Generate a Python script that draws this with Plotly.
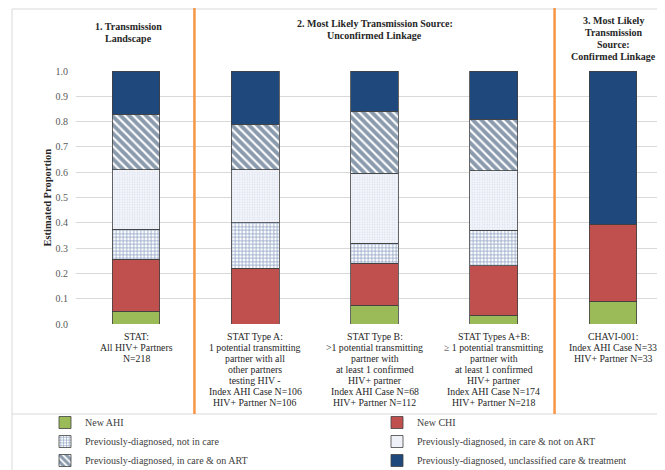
import plotly.graph_objects as go

# ---------------- data ----------------
categories = ["STAT", "STAT Type A", "STAT Type B", "STAT Types A+B", "CHAVI-001"]
category_lines = [
    ["STAT:", "All HIV+ Partners", "N=218"],
    ["STAT Type A:", "1 potential transmitting", "partner with all", "other partners",
     "testing HIV -", "Index AHI Case N=106", "HIV+ Partner N=106"],
    ["STAT Type B:", "&gt;1 potential transmitting", "partner with", "at least 1 confirmed",
     "HIV+ partner", "Index AHI Case N=68", "HIV+ Partner N=112"],
    ["STAT Types A+B:", "≥ 1 potential transmitting", "partner with", "at least 1 confirmed",
     "HIV+ partner", "Index AHI Case N=174", "HIV+ Partner N=218"],
    ["CHAVI-001:", "Index AHI Case N=33", "HIV+ Partner N=33"],
]
section_titles = [
    ["1. Transmission", "Landscape"],
    ["2. Most Likely Transmission Source:", "Unconfirmed Linkage"],
    ["3. Most Likely", "Transmission", "Source:", "Confirmed Linkage"],
]
y_title = "Estimated Proportion"
series_names = [
    "New AHI",
    "New CHI",
    "Previously-diagnosed, not in care",
    "Previously-diagnosed, in care & not on ART",
    "Previously-diagnosed, in care & on ART",
    "Previously-diagnosed, unclassified care & treatment",
]
new_ahi = [0.05, 0.0, 0.075, 0.035, 0.09]
new_chi = [0.205, 0.22, 0.165, 0.195, 0.305]
not_in_care = [0.12, 0.18, 0.08, 0.14, 0.0]
care_not_art = [0.235, 0.21, 0.275, 0.235, 0.0]
care_on_art = [0.22, 0.18, 0.245, 0.205, 0.0]
unclassified = [0.17, 0.21, 0.16, 0.19, 0.605]
y_ticks = [0.0, 0.1, 0.2, 0.3, 0.4, 0.5, 0.6, 0.7, 0.8, 0.9, 1.0]

# ---------------- layout constants ----------------
OFF = 8                      # page body margin: figure starts at (8, 8) in the window
W, H = 665 - OFF, 470 - OFF
# reference-pixel positions (window coordinates) converted to figure coordinates
PLOT_L, PLOT_R, PLOT_T, PLOT_B = 76 - OFF, 660 - OFF, 71 - OFF, 324 - OFF
ML, MR, MT, MB = PLOT_L, W - PLOT_R, PLOT_T, H - PLOT_B
PW, PH = W - ML - MR, H - MT - MB
BAR0, STEP = 136 - OFF, 119.25     # pixel centre of first bar, spacing
FONT = "Liberation Serif"

def px2paper_x(p):           # p in window (reference) pixels
    return (p - OFF - ML) / PW

def px2paper_y(p):
    return (PLOT_B - (p - OFF)) / PH

def px2cont_x(p):
    return (p - OFF) / W

def px2cont_y(p):
    return 1 - (p - OFF) / H

series_values = [new_ahi, new_chi, not_in_care, care_not_art, care_on_art, unclassified]
styles = [
    dict(color="#9BBB59"),
    dict(color="#C0504D"),
    dict(color="white", pattern=dict(shape="+", fgcolor="#244A8C", bgcolor="white", size=3.5, solidity=0.42)),
    dict(color="white", pattern=dict(shape=".", fgcolor="#B4C3DE", bgcolor="#F5F7FB", size=2.5, solidity=0.3)),
    dict(color="white", pattern=dict(shape="\\", fgcolor="#17375E", bgcolor="white", size=6, solidity=0.65)),
    dict(color="#1F497D"),
]
legend_of = ["legend", "legend2", "legend", "legend2", "legend", "legend2"]

fig = go.Figure()
for name, vals, st, lg in zip(series_names, series_values, styles, legend_of):
    marker = dict(st)
    marker["line"] = dict(color="#404040", width=0.8)
    fig.add_trace(go.Bar(
        x=categories, y=vals, name=name, marker=marker, width=0.4, legend=lg,
    ))

annotations = []
# category labels (line by line below the axis)
for i, lines in enumerate(category_lines):
    for j, line in enumerate(lines):
        annotations.append(dict(
            x=i, xref="x", y=0, yref="paper", yanchor="middle", xanchor="center",
            yshift=-(336 - 324) - 11 * j, text=line, showarrow=False,
            font=dict(family=FONT, size=9.8, color="#262626"),
        ))
# section titles
title_x = [-0.067, 2.0, 4.0]
title_y0 = [26, 23, 20]
title_dy = [12, 12, 12.3]
for k, lines in enumerate(section_titles):
    for j, line in enumerate(lines):
        p = title_y0[k] + title_dy[k] * j
        annotations.append(dict(
            x=title_x[k], xref="x", y=1, yref="paper", yanchor="middle", xanchor="center",
            yshift=71 - p, text="<b>" + line + "</b>", showarrow=False,
            font=dict(family=FONT, size=10, color="#262626"),
        ))
# y-axis title
annotations.append(dict(
    x=px2paper_x(47), xref="paper", y=0.5, yref="paper", xanchor="center", yanchor="middle",
    textangle=-90, text="<b>" + y_title + "</b>", showarrow=False,
    font=dict(family=FONT, size=10.5, color="#262626"),
))

shapes = [
    # outer light frame
    dict(type="rect", xref="paper", yref="paper", x0=px2paper_x(12), x1=px2paper_x(720),
         y0=px2paper_y(520), y1=px2paper_y(9), line=dict(color="#D9D9D9", width=1), layer="below"),
    # separator above legend
    dict(type="line", xref="paper", yref="paper", x0=px2paper_x(12), x1=px2paper_x(720),
         y0=px2paper_y(414), y1=px2paper_y(414), line=dict(color="#D9D9D9", width=1)),
    # orange section dividers
    dict(type="line", xref="x", yref="paper", x0=0.49, x1=0.49,
         y0=px2paper_y(414), y1=px2paper_y(8), line=dict(color="#F79646", width=2.5)),
    dict(type="line", xref="x", yref="paper", x0=3.51, x1=3.51,
         y0=px2paper_y(414), y1=px2paper_y(6), line=dict(color="#F79646", width=2.5)),
]

legend_common = dict(orientation="v", xanchor="left", yanchor="top", xref="container", yref="container",
                     font=dict(family=FONT, size=10, color="#404040"), bgcolor="rgba(0,0,0,0)",
                     traceorder="normal", tracegroupgap=0)

fig.update_layout(
    width=W, height=H, barmode="stack",
    margin=dict(l=ML, r=MR, t=MT, b=MB, autoexpand=False),
    paper_bgcolor="white", plot_bgcolor="white",
    font=dict(family=FONT, size=10, color="#404040"),
    annotations=annotations, shapes=shapes,
    xaxis=dict(type="category", range=[(PLOT_L - BAR0) / STEP, (PLOT_R - BAR0) / STEP],
               showticklabels=False, showgrid=False, zeroline=False, showline=False, ticks="",
               automargin=False),
    yaxis=dict(range=[0, 1], tickvals=y_ticks, tickformat=".1f", showgrid=True,
               gridcolor="#D9D9D9", gridwidth=1, zeroline=False, showline=False,
               ticks="outside", ticklen=5, tickcolor="rgba(0,0,0,0)", automargin=False,
               tickfont=dict(family=FONT, size=10, color="#595959")),
    legend=dict(legend_common, x=px2cont_x(45), y=px2cont_y(408)),
    legend2=dict(legend_common, x=px2cont_x(377), y=px2cont_y(408)),
    showlegend=True,
)

fig.write_html("out.html")
